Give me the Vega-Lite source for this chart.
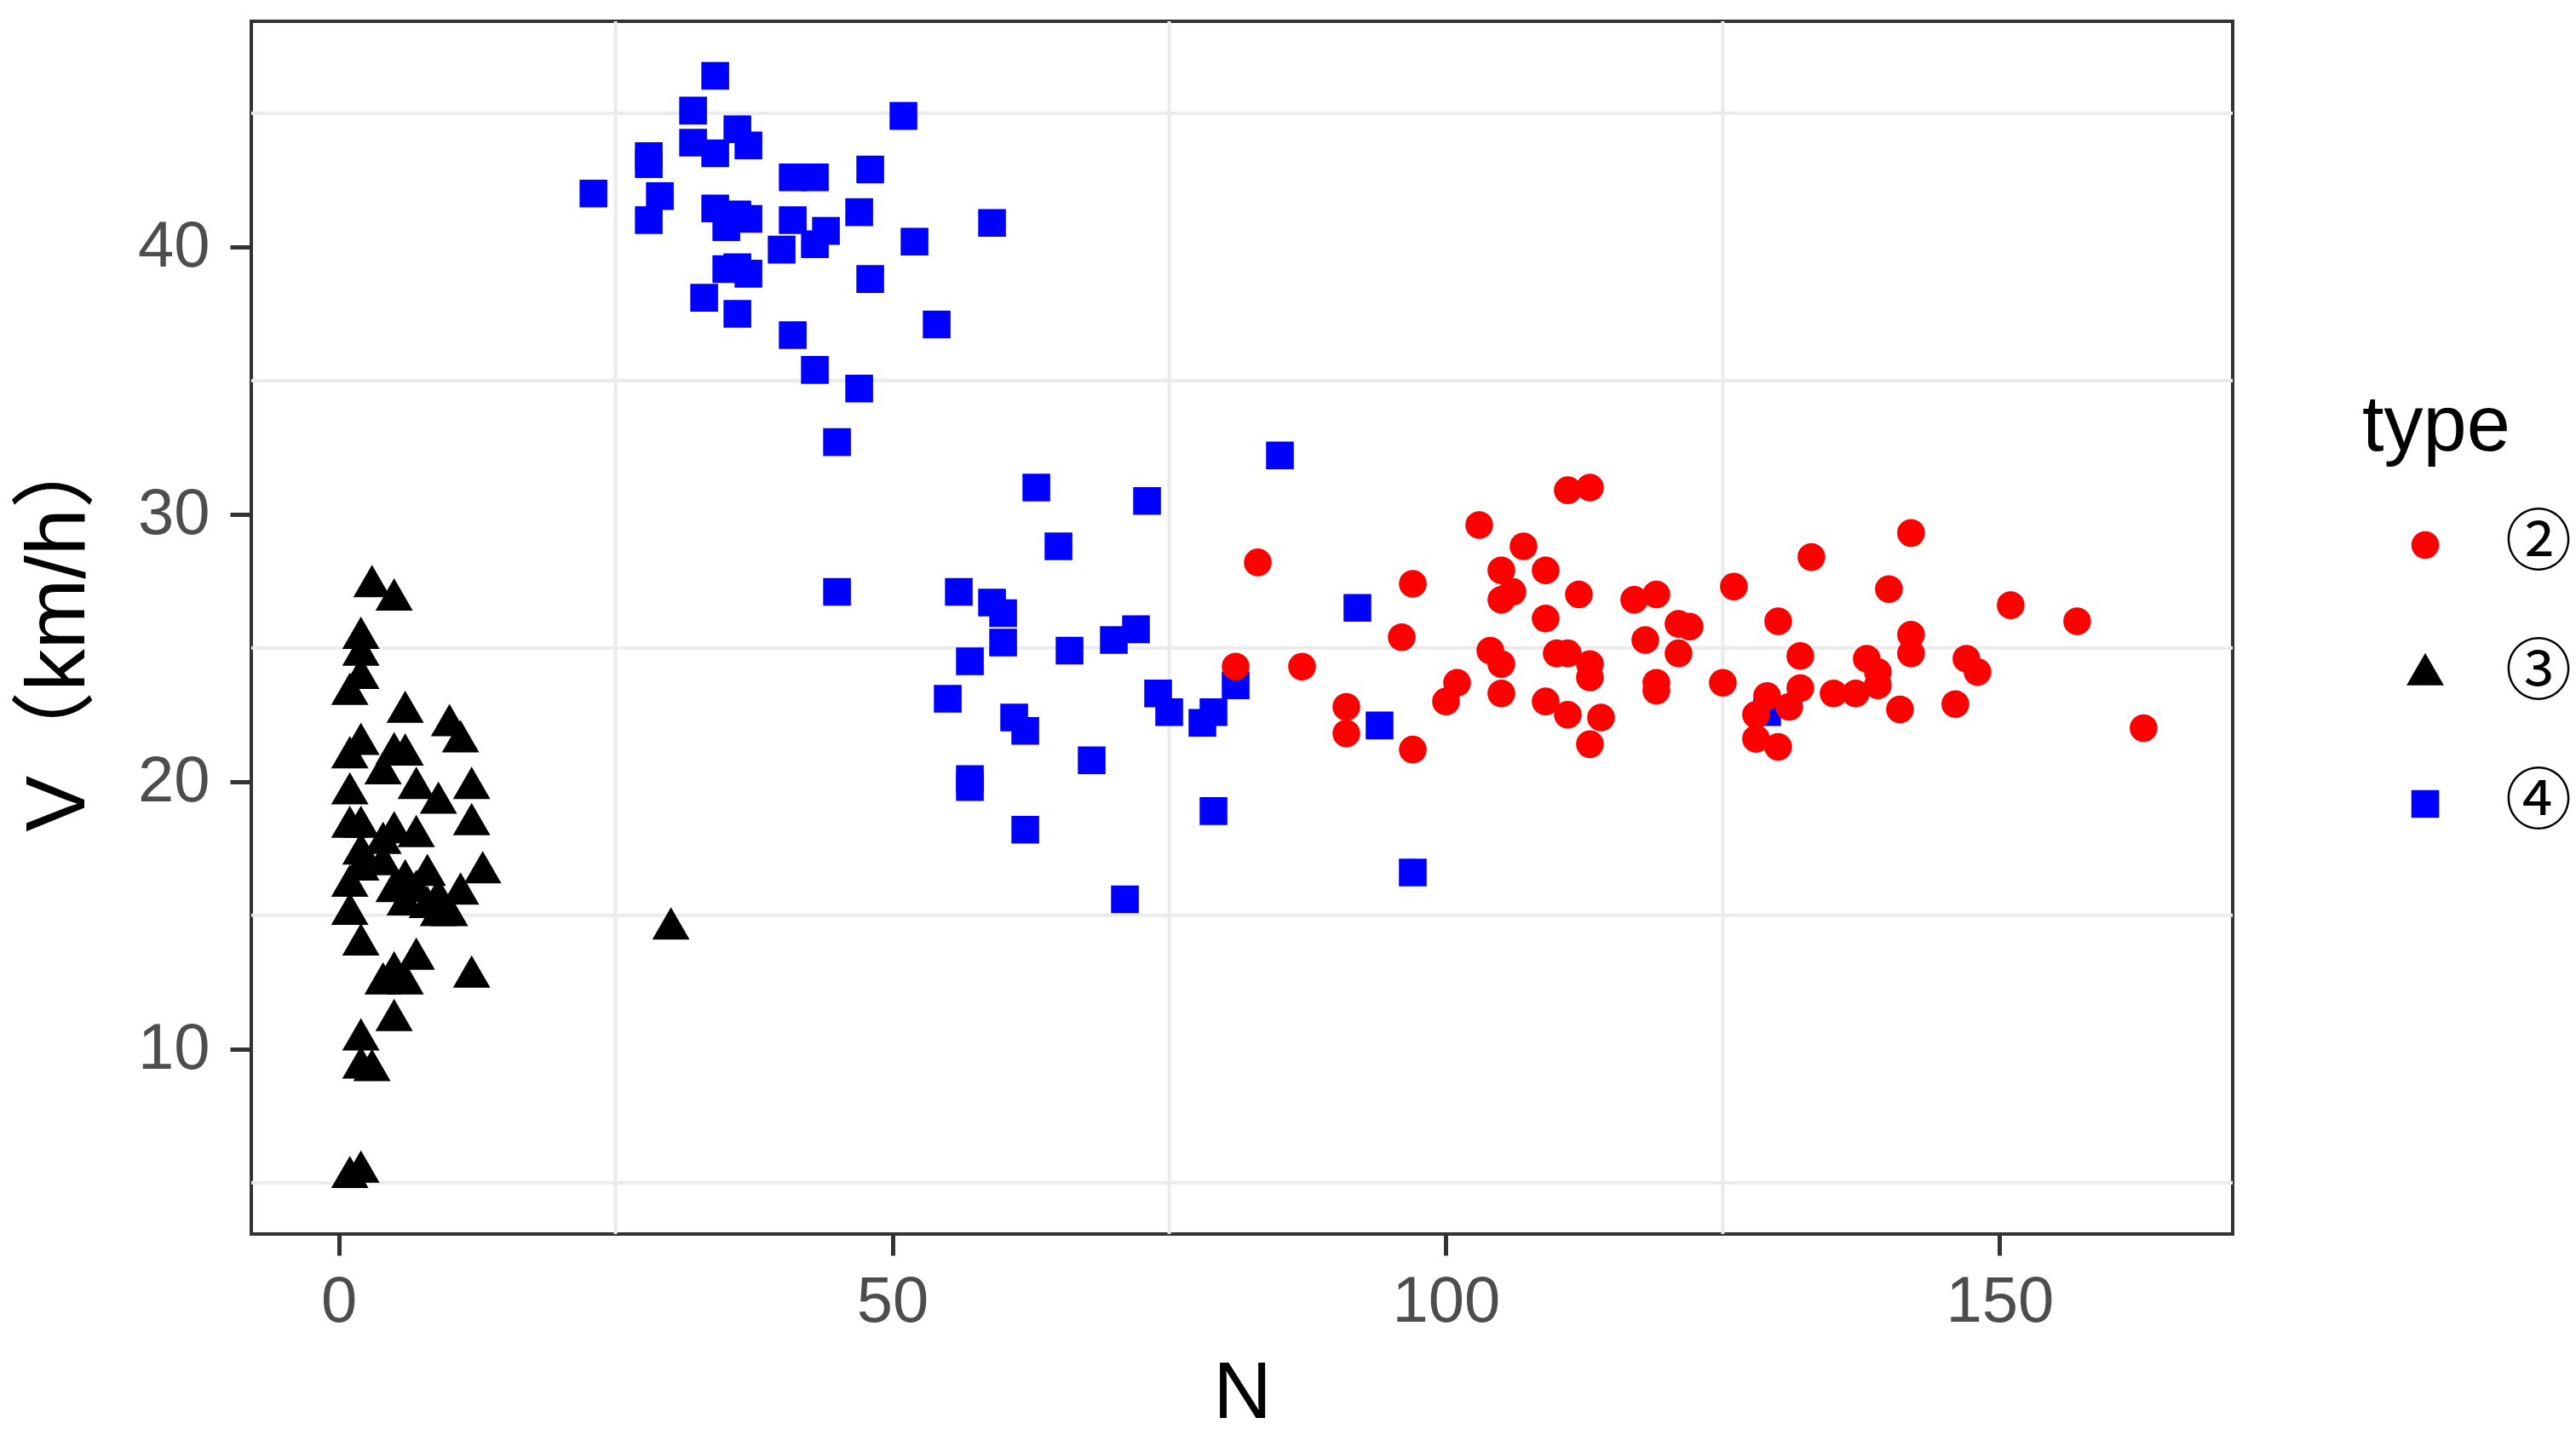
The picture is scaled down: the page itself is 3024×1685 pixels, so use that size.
{
  "$schema": "https://vega.github.io/schema/vega-lite/v6.json",
  "width": 2326,
  "height": 1424,
  "autosize": {"type": "none"},
  "padding": {"left": 295, "top": 25, "right": 403, "bottom": 236},
  "background": "white",
  "config": {
    "view": {"stroke": "#333333", "strokeWidth": 4},
    "font": "Liberation Sans",
    "axisX": {
      "grid": false, "domain": false,
      "tickColor": "#333333", "tickWidth": 5, "tickSize": 25,
      "labelFont": "Liberation Sans", "labelFontSize": 76, "labelColor": "#4D4D4D", "labelPadding": 17,
      "labelFlush": false, "labelOverlap": false, "labelBound": false,
      "titleFont": "Liberation Sans", "titleFontSize": 95, "titleFontWeight": "normal", "titleColor": "#000000",
      "titleY": 215, "titleBaseline": "alphabetic"
    },
    "axisY": {
      "grid": false, "domain": false,
      "tickColor": "#333333", "tickWidth": 5, "tickSize": 25,
      "labelFont": "Liberation Sans", "labelFontSize": 76, "labelColor": "#4D4D4D", "labelPadding": 24,
      "labelFlush": false, "labelOverlap": false, "labelBound": false,
      "titleFont": "Liberation Sans, Noto Sans CJK SC", "titleFontSize": 99, "titleFontWeight": "normal", "titleColor": "#000000",
      "titleX": -197, "titleBaseline": "alphabetic"
    }
  },
  "datasets": {
    "gridx": [{"N": 25}, {"N": 75}, {"N": 125}],
    "gridy": [{"V": 5}, {"V": 15}, {"V": 25}, {"V": 35}, {"V": 45}],
    "points": [
      {"N": 23, "V": 42.0, "type": "④"}, {"N": 34, "V": 46.4, "type": "④"}, {"N": 32, "V": 45.1, "type": "④"},
      {"N": 32, "V": 43.9, "type": "④"}, {"N": 34, "V": 43.5, "type": "④"}, {"N": 36, "V": 44.4, "type": "④"},
      {"N": 37, "V": 43.8, "type": "④"}, {"N": 28, "V": 43.4, "type": "④"}, {"N": 28, "V": 43.1, "type": "④"},
      {"N": 29, "V": 41.9, "type": "④"}, {"N": 28, "V": 41.0, "type": "④"}, {"N": 34, "V": 41.44, "type": "④"},
      {"N": 36, "V": 41.22, "type": "④"}, {"N": 37, "V": 41.05, "type": "④"}, {"N": 35, "V": 40.74, "type": "④"},
      {"N": 41, "V": 42.6, "type": "④"}, {"N": 43, "V": 42.6, "type": "④"}, {"N": 48, "V": 42.9, "type": "④"},
      {"N": 51, "V": 44.9, "type": "④"}, {"N": 47, "V": 41.3, "type": "④"}, {"N": 41, "V": 41.0, "type": "④"},
      {"N": 44, "V": 40.6, "type": "④"}, {"N": 43, "V": 40.1, "type": "④"}, {"N": 40, "V": 39.9, "type": "④"},
      {"N": 52, "V": 40.2, "type": "④"}, {"N": 59, "V": 40.9, "type": "④"}, {"N": 35, "V": 39.17, "type": "④"},
      {"N": 36, "V": 39.24, "type": "④"}, {"N": 37, "V": 39.0, "type": "④"}, {"N": 33, "V": 38.1, "type": "④"},
      {"N": 36, "V": 37.5, "type": "④"}, {"N": 48, "V": 38.8, "type": "④"}, {"N": 54, "V": 37.1, "type": "④"},
      {"N": 41, "V": 36.7, "type": "④"}, {"N": 43, "V": 35.4, "type": "④"}, {"N": 47, "V": 34.7, "type": "④"},
      {"N": 45, "V": 32.7, "type": "④"}, {"N": 45, "V": 27.1, "type": "④"},
      {"N": 85, "V": 32.2, "type": "④"}, {"N": 63, "V": 31.0, "type": "④"}, {"N": 73, "V": 30.5, "type": "④"},
      {"N": 65, "V": 28.8, "type": "④"}, {"N": 56, "V": 27.1, "type": "④"}, {"N": 59, "V": 26.7, "type": "④"},
      {"N": 60, "V": 26.3, "type": "④"}, {"N": 60, "V": 25.2, "type": "④"}, {"N": 57, "V": 24.5, "type": "④"},
      {"N": 66, "V": 24.9, "type": "④"}, {"N": 70, "V": 25.3, "type": "④"}, {"N": 72, "V": 25.7, "type": "④"},
      {"N": 92, "V": 26.5, "type": "④"}, {"N": 55, "V": 23.1, "type": "④"}, {"N": 74, "V": 23.3, "type": "④"},
      {"N": 75, "V": 22.6, "type": "④"}, {"N": 81, "V": 23.6, "type": "④"}, {"N": 79, "V": 22.6, "type": "④"},
      {"N": 78, "V": 22.2, "type": "④"}, {"N": 61, "V": 22.4, "type": "④"}, {"N": 62, "V": 21.9, "type": "④"},
      {"N": 94, "V": 22.1, "type": "④"}, {"N": 57, "V": 20.1, "type": "④"}, {"N": 57, "V": 19.8, "type": "④"},
      {"N": 68, "V": 20.8, "type": "④"}, {"N": 79, "V": 18.9, "type": "④"}, {"N": 62, "V": 18.2, "type": "④"},
      {"N": 71, "V": 15.6, "type": "④"}, {"N": 97, "V": 16.6, "type": "④"}, {"N": 129, "V": 22.6, "type": "④"},
      {"N": 3, "V": 27.3, "type": "③"}, {"N": 5, "V": 26.8, "type": "③"}, {"N": 2, "V": 25.37, "type": "③"},
      {"N": 2, "V": 24.74, "type": "③"}, {"N": 2, "V": 23.87, "type": "③"}, {"N": 1, "V": 23.27, "type": "③"},
      {"N": 6, "V": 22.6, "type": "③"}, {"N": 10, "V": 22.1, "type": "③"}, {"N": 11, "V": 21.5, "type": "③"},
      {"N": 2, "V": 21.4, "type": "③"}, {"N": 1, "V": 20.9, "type": "③"}, {"N": 5, "V": 21.05, "type": "③"},
      {"N": 6, "V": 21.0, "type": "③"}, {"N": 4, "V": 20.3, "type": "③"}, {"N": 7, "V": 19.75, "type": "③"},
      {"N": 9, "V": 19.2, "type": "③"}, {"N": 12, "V": 19.75, "type": "③"}, {"N": 12, "V": 18.4, "type": "③"},
      {"N": 1, "V": 19.55, "type": "③"}, {"N": 1, "V": 18.3, "type": "③"}, {"N": 2, "V": 18.3, "type": "③"},
      {"N": 5, "V": 18.1, "type": "③"}, {"N": 7, "V": 17.95, "type": "③"}, {"N": 4, "V": 17.7, "type": "③"},
      {"N": 2, "V": 17.3, "type": "③"}, {"N": 2, "V": 16.7, "type": "③"}, {"N": 8, "V": 16.5, "type": "③"},
      {"N": 13, "V": 16.6, "type": "③"}, {"N": 11, "V": 15.8, "type": "③"}, {"N": 1, "V": 16.1, "type": "③"},
      {"N": 5, "V": 15.9, "type": "③"}, {"N": 6, "V": 15.4, "type": "③"}, {"N": 8, "V": 15.3, "type": "③"},
      {"N": 9, "V": 15.0, "type": "③"}, {"N": 10, "V": 15.0, "type": "③"}, {"N": 1, "V": 15.05, "type": "③"},
      {"N": 2, "V": 13.9, "type": "③"}, {"N": 7, "V": 13.37, "type": "③"}, {"N": 5, "V": 12.86, "type": "③"},
      {"N": 4, "V": 12.44, "type": "③"}, {"N": 6, "V": 12.44, "type": "③"}, {"N": 12, "V": 12.7, "type": "③"},
      {"N": 5, "V": 11.07, "type": "③"}, {"N": 2, "V": 10.35, "type": "③"}, {"N": 2, "V": 9.3, "type": "③"},
      {"N": 3, "V": 9.2, "type": "③"}, {"N": 1, "V": 5.2, "type": "③"}, {"N": 2, "V": 5.4, "type": "③"},
      {"N": 30, "V": 14.5, "type": "③"}, {"N": 4, "V": 16.9, "type": "③"}, {"N": 6, "V": 16.3, "type": "③"},
      {"N": 7, "V": 15.9, "type": "③"}, {"N": 9, "V": 15.6, "type": "③"},
      {"N": 83, "V": 28.2, "type": "②"}, {"N": 81, "V": 24.3, "type": "②"}, {"N": 87, "V": 24.3, "type": "②"},
      {"N": 91, "V": 22.8, "type": "②"}, {"N": 91, "V": 21.8, "type": "②"}, {"N": 97, "V": 27.4, "type": "②"},
      {"N": 96, "V": 25.4, "type": "②"}, {"N": 97, "V": 21.2, "type": "②"}, {"N": 103, "V": 29.6, "type": "②"},
      {"N": 111, "V": 30.9, "type": "②"}, {"N": 113, "V": 31.0, "type": "②"}, {"N": 107, "V": 28.8, "type": "②"},
      {"N": 105, "V": 27.9, "type": "②"}, {"N": 109, "V": 27.9, "type": "②"}, {"N": 106, "V": 27.1, "type": "②"},
      {"N": 105, "V": 26.8, "type": "②"}, {"N": 112, "V": 27.0, "type": "②"}, {"N": 109, "V": 26.1, "type": "②"},
      {"N": 117, "V": 26.8, "type": "②"}, {"N": 119, "V": 27.0, "type": "②"}, {"N": 126, "V": 27.3, "type": "②"},
      {"N": 118, "V": 25.3, "type": "②"}, {"N": 121, "V": 25.9, "type": "②"}, {"N": 122, "V": 25.8, "type": "②"},
      {"N": 121, "V": 24.8, "type": "②"}, {"N": 104, "V": 24.9, "type": "②"}, {"N": 105, "V": 24.4, "type": "②"},
      {"N": 110, "V": 24.8, "type": "②"}, {"N": 111, "V": 24.8, "type": "②"}, {"N": 113, "V": 24.4, "type": "②"},
      {"N": 113, "V": 23.9, "type": "②"}, {"N": 101, "V": 23.7, "type": "②"}, {"N": 100, "V": 23.0, "type": "②"},
      {"N": 105, "V": 23.3, "type": "②"}, {"N": 109, "V": 23.0, "type": "②"}, {"N": 111, "V": 22.5, "type": "②"},
      {"N": 114, "V": 22.4, "type": "②"}, {"N": 113, "V": 21.4, "type": "②"}, {"N": 119, "V": 23.7, "type": "②"},
      {"N": 119, "V": 23.4, "type": "②"}, {"N": 125, "V": 23.7, "type": "②"}, {"N": 130, "V": 26.0, "type": "②"},
      {"N": 133, "V": 28.4, "type": "②"}, {"N": 142, "V": 29.3, "type": "②"}, {"N": 140, "V": 27.2, "type": "②"},
      {"N": 151, "V": 26.6, "type": "②"}, {"N": 157, "V": 26.0, "type": "②"}, {"N": 142, "V": 25.5, "type": "②"},
      {"N": 142, "V": 24.8, "type": "②"}, {"N": 132, "V": 24.7, "type": "②"}, {"N": 132, "V": 23.5, "type": "②"},
      {"N": 131, "V": 22.8, "type": "②"}, {"N": 129, "V": 23.2, "type": "②"}, {"N": 128, "V": 22.5, "type": "②"},
      {"N": 128, "V": 21.6, "type": "②"}, {"N": 130, "V": 21.3, "type": "②"}, {"N": 135, "V": 23.3, "type": "②"},
      {"N": 137, "V": 23.3, "type": "②"}, {"N": 138, "V": 24.6, "type": "②"}, {"N": 139, "V": 24.1, "type": "②"},
      {"N": 139, "V": 23.6, "type": "②"}, {"N": 141, "V": 22.7, "type": "②"}, {"N": 146, "V": 22.9, "type": "②"},
      {"N": 147, "V": 24.6, "type": "②"}, {"N": 148, "V": 24.1, "type": "②"}, {"N": 163, "V": 22.0, "type": "②"}
    ]
  },
  "layer": [
    {
      "data": {"name": "gridx"},
      "mark": {"type": "rule", "color": "#EBEBEB", "strokeWidth": 4},
      "encoding": {
        "x": {"field": "N", "type": "quantitative", "title": "N", "scale": {"domain": [-7.9, 171.05], "nice": false, "zero": false}, "axis": {"values": [0, 50, 100, 150]}}
      }
    },
    {
      "data": {"name": "gridy"},
      "mark": {"type": "rule", "color": "#EBEBEB", "strokeWidth": 4},
      "encoding": {
        "y": {"field": "V", "type": "quantitative", "title": "V（km/h）", "scale": {"domain": [3.08, 48.44], "nice": false, "zero": false}, "axis": {"values": [10, 20, 30, 40]}}
      }
    },
    {
      "data": {"name": "points"},
      "mark": {"type": "point", "filled": true, "size": 1060, "opacity": 1, "strokeWidth": 0},
      "encoding": {
        "x": {"field": "N", "type": "quantitative", "title": "N", "scale": {"domain": [-7.9, 171.05], "nice": false, "zero": false}, "axis": {"values": [0, 50, 100, 150]}},
        "y": {"field": "V", "type": "quantitative", "title": "V（km/h）", "scale": {"domain": [3.08, 48.44], "nice": false, "zero": false}, "axis": {"values": [10, 20, 30, 40]}},
        "color": {
          "field": "type", "type": "nominal",
          "scale": {"domain": ["②", "③", "④"], "range": ["#FF0000", "#000000", "#0000FF"]},
          "legend": {
            "title": "type", "orient": "none", "legendX": 2478, "legendY": 431, "padding": 0,
            "titleFont": "Liberation Sans", "titleFontSize": 92, "titleFontWeight": "normal", "titleColor": "#000000", "titlePadding": 53,
            "labelFont": "Noto Sans CJK SC", "labelFontSize": 78, "labelColor": "#000000", "labelOffset": 55,
            "symbolSize": 1060, "symbolOffset": 35, "symbolStrokeWidth": 0, "rowPadding": 74
          }
        },
        "shape": {
          "field": "type", "type": "nominal",
          "scale": {"domain": ["②", "③", "④"], "range": ["circle", "M0,-1.555L1.347,0.778L-1.347,0.778Z", "square"]}
        }
      }
    }
  ]
}
